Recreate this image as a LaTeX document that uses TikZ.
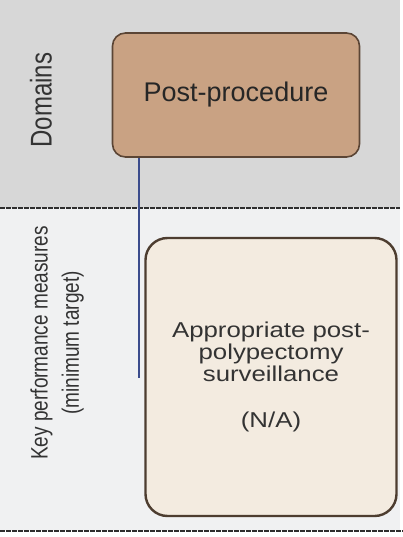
\documentclass[tikz,border=0pt]{standalone}
\usepackage{fontspec}
\setmainfont{Liberation Sans}
\newfontfamily\widesf[FakeStretch=1.2]{Liberation Sans}

\definecolor{bandtop}{HTML}{D7D7D7}
\definecolor{bandbot}{HTML}{F0F1F2}
\definecolor{postfill}{HTML}{C9A283}
\definecolor{postdraw}{HTML}{5B4535}
\definecolor{kpmfill}{HTML}{F3EBE0}
\definecolor{kpmdraw}{HTML}{4D3D30}
\definecolor{linkblue}{HTML}{3B4C8C}
\definecolor{rulegray}{HTML}{2E2E2E}

\tikzset{
    rowrule/.style={rulegray, line width=2pt, dash pattern=on 5pt off 1pt},
    domainbox/.style={draw=postdraw, fill=postfill, line width=1.6pt, rounded corners=13pt,
        minimum width=247pt, minimum height=124pt, font=\fontsize{27}{32}\selectfont, text=black!85},
    kpmbox/.style={draw=kpmdraw, fill=kpmfill, line width=2.4pt, rounded corners=22pt,
        minimum width=251pt, minimum height=278pt, align=center, text=black!80,
        font=\widesf\fontsize{21.5}{22}\selectfont},
    rowlabel/.style={rotate=90, yscale=1.25, align=center, text=black!80},
    link/.style={linkblue, line width=1.5pt}
}

\begin{document}
\begin{tikzpicture}[x=1pt,y=-1pt]

    % パラメータの定義
    \pgfmathsetmacro{\W}{403}
    \pgfmathsetmacro{\H}{537}
    \pgfmathsetmacro{\R}{400}
    \pgfmathsetmacro{\Ymid}{208}
    \pgfmathsetmacro{\Ybot}{531}
    \useasboundingbox (0,0) rectangle (\W,\H);

    % 背景の帯
    \fill[bandtop] (0,0) rectangle (\R,\Ymid);
    \fill[bandbot] (0,\Ymid) rectangle (\R,\Ybot);
    \draw[rowrule] (0,\Ymid) -- (\R,\Ymid);
    \draw[rowrule] (0,\Ybot) -- (\W,\Ybot);

    % 行のラベル
    \node[rowlabel, font=\fontsize{24}{28}\selectfont] (domains) at (41,100) {Domains};
    \node[rowlabel, font=\fontsize{19}{25}\selectfont] (kpm) at (57,343)
        {Key performance measures\\(minimum target)};

    % ボックス
    \node[domainbox] (post) at (236,95) {Post-procedure};
    \node[kpmbox] (surv) at (271,377)
        {Appropriate post-\\polypectomy\\surveillance\\[24pt](N/A)};

    % 線の描画
    \coordinate (lineend) at (139,378);
    \draw[link] (post.south -| lineend) -- (lineend);

\end{tikzpicture}
\end{document}
